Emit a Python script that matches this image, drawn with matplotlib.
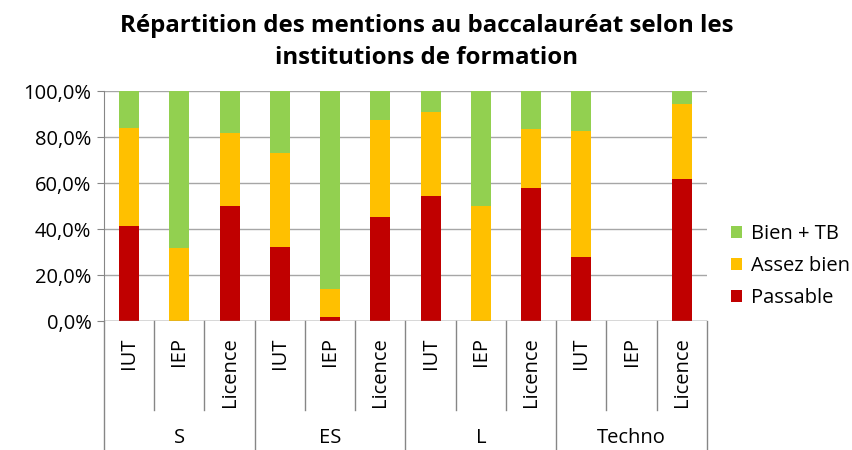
import numpy as np
import matplotlib
matplotlib.use("Agg")
import matplotlib.pyplot as plt
import matplotlib.transforms as mtransforms

plt.rcParams['font.family'] = ['Open Sans', 'DejaVu Sans']

# donnees (en %)
series = ["S", "ES", "L", "Techno"]
institutions = ["IUT", "IEP", "Licence"]
passable = [41.3, 0.0, 49.9, 32.3, 1.7, 45.4, 54.5, 0.0, 57.8, 28.0, 0.0, 61.7]
assez_bien = [42.5, 31.6, 32.0, 40.7, 12.1, 42.1, 36.5, 50.0, 25.5, 54.6, 0.0, 32.5]
bien_tb = [16.2, 68.4, 18.1, 27.0, 86.2, 12.5, 9.0, 50.0, 16.7, 17.4, 0.0, 5.8]

col_p = "#C00000"
col_ab = "#FFC000"
col_b = "#92D050"
fs = 14.5

fig = plt.figure(figsize=(8.53, 4.5), dpi=100)
ax = fig.add_axes([104/853, 1-321/450, (707-104)/853, 230/450])

n = len(passable)
x = np.arange(n)
p = np.array(passable)
ab = np.array(assez_bien)
b = np.array(bien_tb)
w = 0.4
ax.bar(x, p, w, color=col_p, label="Passable", zorder=3)
ax.bar(x, ab, w, bottom=p, color=col_ab, label="Assez bien", zorder=3)
ax.bar(x, b, w, bottom=p+ab, color=col_b, label="Bien + TB", zorder=3)

ax.set_xlim(-0.5, n-0.5)
ax.set_ylim(0, 100)
ax.set_yticks(np.arange(0, 101, 20))
ax.set_yticklabels(["%d,0%%" % v for v in range(0, 101, 20)], fontsize=fs)
ax.yaxis.grid(True, color="#A6A6A6", lw=1, zorder=0)
ax.tick_params(axis="y", length=5, color="#868686", pad=4)
ax.set_xticks([])
for s in ["top", "right", "bottom"]:
    ax.spines[s].set_visible(False)
ax.spines["left"].set_color("#868686")
ax.axhline(0, color="#868686", lw=1, zorder=4)

# axe des categories a deux niveaux
tr = mtransforms.blended_transform_factory(ax.transData, ax.transAxes)
for i in range(n + 1):
    xb = i - 0.5
    if i % 3 == 0:
        y1 = -0.57
    else:
        y1 = -0.387
    ax.plot([xb, xb], [0, y1], color="#868686", lw=1, transform=tr, clip_on=False)
for i in range(n):
    ax.text(i, -0.07, institutions[i % 3], rotation=90, ha="center", va="top",
            fontsize=fs, transform=tr)
for k, s in enumerate(series):
    ax.text(3*k + 1, -0.51, s, ha="center", va="center", fontsize=fs, transform=tr)

h, l = ax.get_legend_handles_labels()
fig.legend(h[::-1], l[::-1], loc="center left", bbox_to_anchor=(713/853, 1-266/450),
           frameon=False, fontsize=fs, handlelength=0.55, handleheight=0.55,
           handletextpad=0.45, labelspacing=0.6)

fig.text(0.5, 1-42/450, "Répartition des mentions au baccalauréat selon les\ninstitutions de formation",
         ha="center", va="center", fontsize=17.3, fontweight="bold", linespacing=1.42)

fig.savefig("out.png", dpi=100)
